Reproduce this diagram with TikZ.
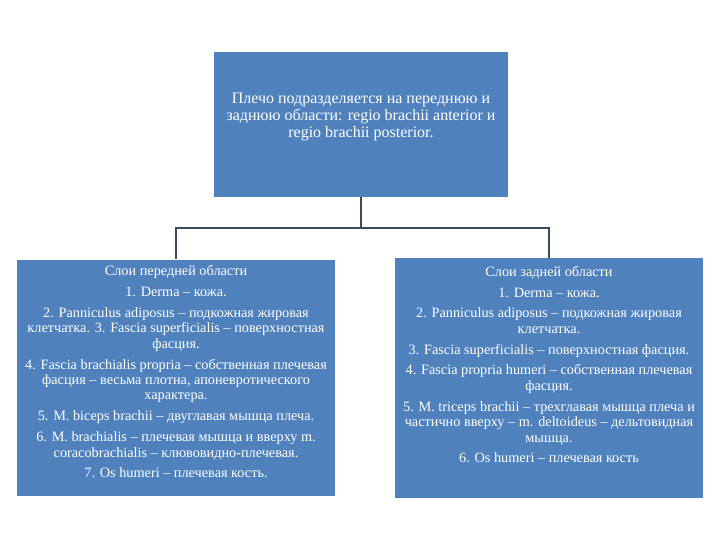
\documentclass[tikz,border=0pt]{standalone}
\usepackage{fontspec}
\setmainfont{Liberation Serif}
\definecolor{boxblue}{HTML}{4F81BD}
\definecolor{linegray}{HTML}{3B4B5E}
\tikzset{
  blbox/.style={fill=boxblue,draw=none,inner sep=0pt},
  bltext/.style={text=white,align=center,inner sep=0pt,font=\fontsize{10.7}{11.6}\selectfont},
  link/.style={draw=linegray,line width=1.5pt}
}
\begin{document}
\begin{tikzpicture}[x=0.75pt,y=-0.75pt]
\useasboundingbox (0,0) rectangle (720,540);
% boxes
\node[blbox,minimum width=294*0.75pt,minimum height=145*0.75pt] (top) at (361,124.5) {};
\node[blbox,minimum width=318*0.75pt,minimum height=236*0.75pt] (ant) at (176,377.5) {};
\node[blbox,minimum width=308*0.75pt,minimum height=240*0.75pt] (post) at (549,378) {};
% texts
\node[bltext,font=\fontsize{12}{12.8}\selectfont] (toptxt) at (361,117)
  {Плечо подразделяется на переднюю и\\заднюю области: regio brachii anterior и\\regio brachii posterior.};
\node[bltext,anchor=north] (anttxt) at ([yshift=-4.5pt]ant.north)
  {Слои передней области\\[4pt]
   1. Derma -- кожа.\\[4pt]
   2. Panniculus adiposus -- подкожная жировая\\клетчатка. 3. Fascia superficialis -- поверхностная\\фасция.\\[4pt]
   4. Fascia brachialis propria -- собственная плечевая\\фасция -- весьма плотна, апоневротического\\характера.\\[4pt]
   5. M. biceps brachii -- двуглавая мышца плеча.\\[4pt]
   6. M. brachialis -- плечевая мышца и вверху m.\\coracobrachialis -- клювовидно-плечевая.\\[4pt]
   7. Os humeri -- плечевая кость.};
\node[bltext,anchor=north] (posttxt) at ([yshift=-6pt]post.north)
  {Слои задней области\\[4pt]
   1. Derma -- кожа.\\[4pt]
   2. Panniculus adiposus -- подкожная жировая\\клетчатка.\\[4pt]
   3. Fascia superficialis -- поверхностная фасция.\\[4pt]
   4. Fascia propria humeri -- собственная плечевая\\фасция.\\[4pt]
   5. M. triceps brachii -- трехглавая мышца плеча и\\частично вверху -- m. deltoideus -- дельтовидная\\мышца.\\[4pt]
   6. Os humeri -- плечевая кость};
% connectors
\coordinate (fork) at (361,228);
\draw[link] (top.south)--(fork);
\draw[link] (fork)-|(ant.north);
\draw[link] (fork)-|(post.north);
\end{tikzpicture}
\end{document}
